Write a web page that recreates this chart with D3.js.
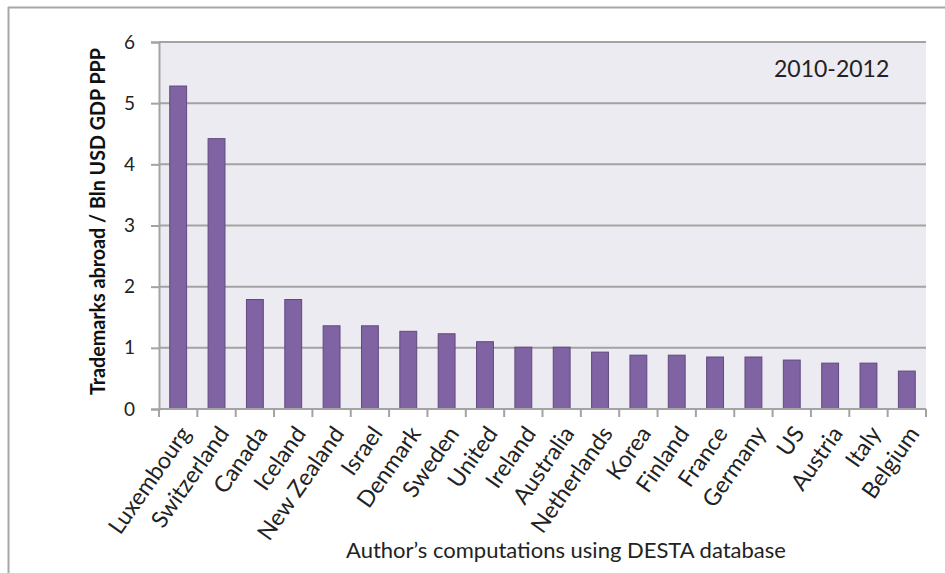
<!DOCTYPE html>
<html><head><meta charset="utf-8">
<script src="https://cdn.jsdelivr.net/npm/d3@7/dist/d3.min.js"></script>
<style>html,body{margin:0;padding:0;background:#fff;}svg{display:block;}</style>
</head><body>
<svg id="c" width="945" height="573"></svg>
<script>
const categories = ["Luxembourg","Switzerland","Canada","Iceland","New Zealand","Israel","Denmark","Sweden","United","Ireland","Australia","Netherlands","Korea","Finland","France","Germany","US","Austria","Italy","Belgium"];
const values = [5.28, 4.42, 1.79, 1.79, 1.36, 1.36, 1.27, 1.23, 1.10, 1.01, 1.01, 0.93, 0.88, 0.88, 0.85, 0.85, 0.80, 0.75, 0.75, 0.62];
const yTicks = [0, 1, 2, 3, 4, 5, 6];
const periodLabel = "2010-2012";
const yTitle = "Trademarks abroad / Bln USD GDP PPP";
const footnote = "Author\u2019s computations using DESTA database";

const svg = d3.select("#c");
const L = 159, R = 926, T = 42, B = 409;
const FONT = "Lato, 'Open Sans', sans-serif";

// frame (top and left edges visible)
svg.append("line").attr("x1", 8).attr("x2", 945).attr("y1", 7.5).attr("y2", 7.5).attr("stroke", "#a8a8a8").attr("stroke-width", 2);
svg.append("line").attr("x1", 8.5).attr("x2", 8.5).attr("y1", 7).attr("y2", 573).attr("stroke", "#a8a8a8").attr("stroke-width", 2);

const x = d3.scaleBand().domain(categories).range([L, R]).paddingInner(0.56).paddingOuter(0.28);
const y = d3.scaleLinear().domain([0, 6]).range([B, T]);

// plot background
svg.append("rect").attr("x", L).attr("y", T).attr("width", R - L).attr("height", B - T).attr("fill", "#ecebf1");

// gridlines
svg.append("g").selectAll("line").data(yTicks.filter(d => d > 0)).join("line")
  .attr("x1", L).attr("x2", R).attr("y1", d => y(d)).attr("y2", d => y(d))
  .attr("stroke", "#a3a3a3").attr("stroke-width", 2);

// bars
svg.append("g").selectAll("rect").data(values).join("rect")
  .attr("x", (d, i) => x(categories[i]))
  .attr("width", x.bandwidth())
  .attr("y", d => y(d))
  .attr("height", d => y(0) - y(d))
  .attr("fill", "#7f63a3")
  .attr("stroke", "#62497f").attr("stroke-width", 1);

// y axis
const yAxis = d3.axisLeft(y).tickValues(yTicks).tickSize(8).tickPadding(16).tickFormat(d3.format("d"));
const gy = svg.append("g").attr("transform", `translate(${L},0)`).call(yAxis);
gy.select(".domain").attr("stroke", "#a3a3a3").attr("stroke-width", 2);
gy.selectAll(".tick line").attr("stroke", "#a3a3a3").attr("stroke-width", 2);
gy.selectAll(".tick text").attr("font-family", FONT).attr("font-size", 19).attr("fill", "#222");

// x axis ticks at band boundaries
const step = x.step();
const bounds = categories.map(c => x(c) - x.paddingInner() * step / 2).concat([R]);
svg.append("line").attr("x1", L).attr("x2", R).attr("y1", B).attr("y2", B).attr("stroke", "#a3a3a3").attr("stroke-width", 2);
svg.append("g").selectAll("line").data(bounds).join("line")
  .attr("x1", d => d).attr("x2", d => d).attr("y1", B).attr("y2", B + 8)
  .attr("stroke", "#a3a3a3").attr("stroke-width", 2);

// x labels
svg.append("g").selectAll("text").data(categories).join("text")
  .attr("transform", d => `translate(${x(d) + x.bandwidth() / 2 + 7},${B + 20}) rotate(-55)`)
  .attr("text-anchor", "end")
  .attr("dy", "0.35em")
  .attr("font-family", FONT).attr("font-size", 23).attr("fill", "#222")
  .text(d => d);

// y title
svg.append("text")
  .attr("transform", `translate(105,221.5) rotate(-90)`)
  .attr("text-anchor", "middle")
  .attr("font-family", FONT).attr("font-weight", "bold").attr("font-size", 21).attr("fill", "#111")
  .attr("textLength", 347).attr("lengthAdjust", "spacingAndGlyphs")
  .text(yTitle);

// period label
svg.append("text").attr("x", 774).attr("y", 77)
  .attr("font-family", FONT).attr("font-size", 23).attr("fill", "#222")
  .text(periodLabel);

// footnote
svg.append("text").attr("x", 566).attr("y", 558).attr("text-anchor", "middle")
  .attr("font-family", FONT).attr("font-size", 22).attr("fill", "#222")
  .text(footnote);
</script>
</body></html>
